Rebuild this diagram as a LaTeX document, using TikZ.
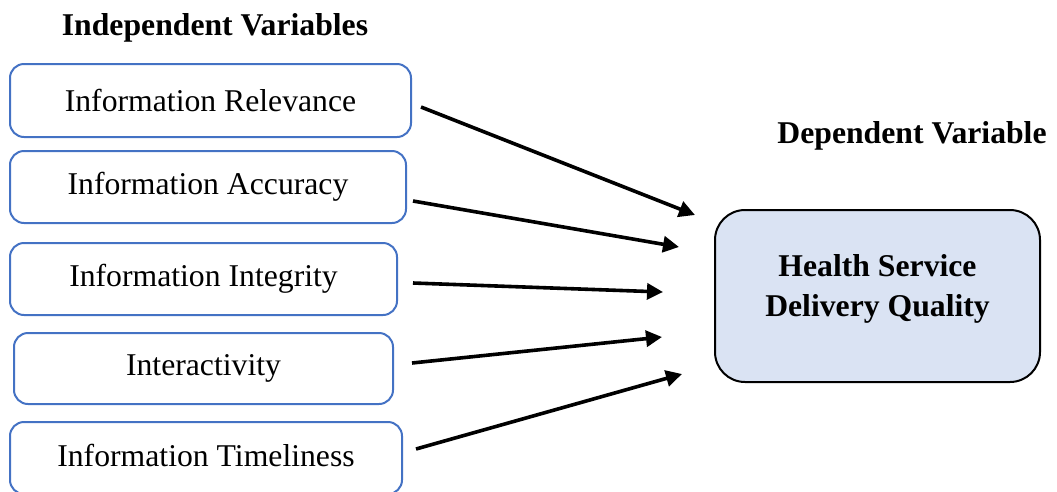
\documentclass[tikz,border=0pt]{standalone}
\usepackage{fontspec}
\setmainfont{Liberation Serif}
\usetikzlibrary{arrows.meta}
\definecolor{ivblue}{HTML}{4472C4}
\definecolor{dvfill}{HTML}{DAE3F3}
\tikzset{
  ivbox/.style={draw=ivblue, line width=2pt, rounded corners=14pt, inner sep=0pt,
    font=\fontsize{31.7}{38}\selectfont},
  dvbox/.style={draw=black, fill=dvfill, line width=2pt, rounded corners=30pt,
    minimum width=325pt, minimum height=172pt, inner sep=0pt},
  head/.style={font=\fontsize{31.7}{38}\selectfont\bfseries, inner sep=0pt},
  dvtext/.style={font=\fontsize{31.7}{40}\selectfont\bfseries, align=center, inner sep=0pt},
  arr/.style={-{Triangle[length=16pt,width=16pt]}, line width=3.6pt}
}
\begin{document}
\begin{tikzpicture}[x=1pt,y=-1pt]
\useasboundingbox (0,0) rectangle (1057,491);
\begin{scope}
\clip (0,0) rectangle (1057,491);
\node[head] (ivh) at (215,28) {Independent Variables};
\node[head] (dvh) at (912,136) {Dependent Variable};
\node[ivbox, minimum width=401pt, minimum height=73pt] (r1) at (210.5,100.5) {Information Relevance};
\node[ivbox, minimum width=396pt, minimum height=72pt] (r2) at (208,187) {Information Accuracy};
\node[ivbox, minimum width=387pt, minimum height=72pt] (r3) at (203.5,279) {Information Integrity};
\node[ivbox, minimum width=379pt, minimum height=71pt] (r4) at (203.5,368.5) {Interactivity};
\node[ivbox, minimum width=392pt, minimum height=72pt, text height=22pt, text depth=6pt] (r5) at (206,458) {Information Timeliness};
\node[dvbox] (dv) at (877.5,296) {};
\node[dvtext] (dvt) at (877.5,289) {Health Service\\Delivery Quality};
\coordinate (s1) at (421,107); \coordinate (t1) at (695,215);
\coordinate (s2) at (413,201); \coordinate (t2) at (679,247);
\coordinate (s3) at (413,283); \coordinate (t3) at (663,292);
\coordinate (s4) at (412,363); \coordinate (t4) at (662,337);
\coordinate (s5) at (416,449); \coordinate (t5) at (682,374);
\draw[arr] (s1) -- (t1);
\draw[arr] (s2) -- (t2);
\draw[arr] (s3) -- (t3);
\draw[arr] (s4) -- (t4);
\draw[arr] (s5) -- (t5);
\end{scope}
\end{tikzpicture}
\end{document}
